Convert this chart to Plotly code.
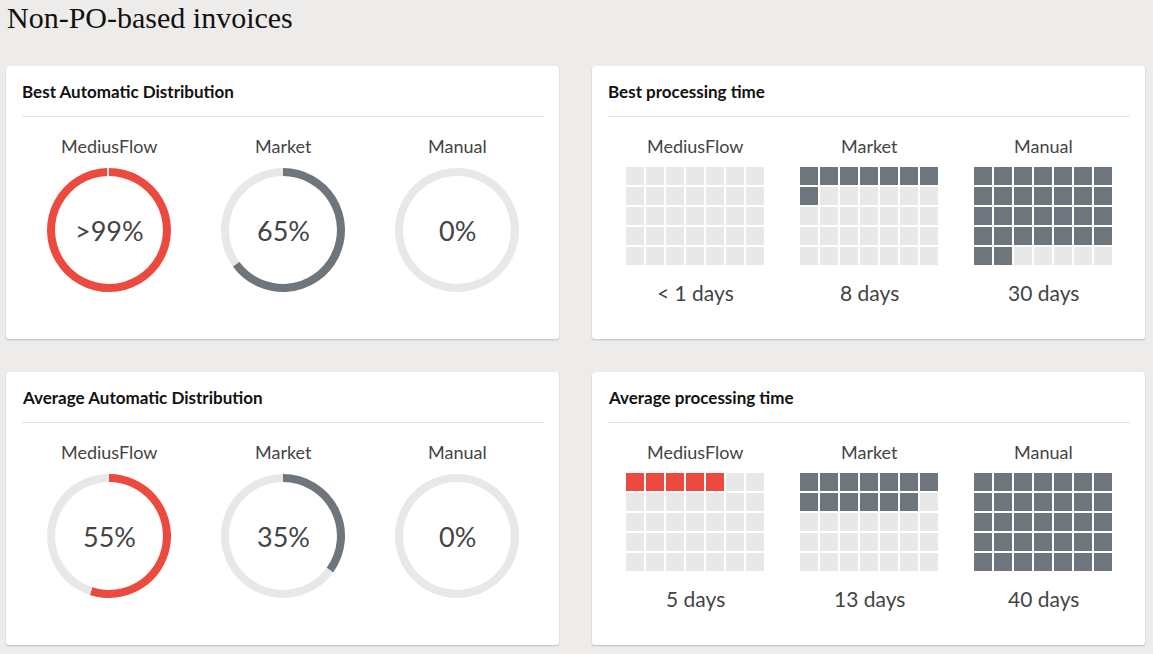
import plotly.graph_objects as go

# ---------------- data ----------------
page_title = "Non-PO-based invoices"
card_titles = ["Best Automatic Distribution", "Best processing time",
               "Average Automatic Distribution", "Average processing time"]
groups = ["MediusFlow", "Market", "Manual"]

best_auto_pct = [99.5, 65, 0]
best_auto_text = [">99%", "65%", "0%"]
avg_auto_pct = [55, 35, 0]
avg_auto_text = ["55%", "35%", "0%"]

best_days = [0.5, 8, 30]
best_days_text = ["< 1 days", "8 days", "30 days"]
avg_days = [5, 13, 40]
avg_days_text = ["5 days", "13 days", "40 days"]

# ---------------- style ----------------
W, H = 1153, 654
BG = "#EDECEA"
RED = "#EC4A3F"
GRAY = "#6E757C"
LIGHT = "#E8E8E9"
TXT = "#444444"
group_colors = [RED, GRAY, GRAY]
LABEL_FONT = "Lato"

cards = [(6, 66, 559, 339), (592, 66, 1145, 339),
         (6, 372, 559, 645), (592, 372, 1145, 645)]
donut_cx = [109, 283, 457]
waffle_x0 = [625, 799, 973]
COLS, ROWS, CELL = 7, 5, 20
R_OUT = 62


def rrect(x0, y0, x1, y1, r=3):
    return (f"M{x0+r},{y0} L{x1-r},{y0} Q{x1},{y0} {x1},{y0+r} "
            f"L{x1},{y1-r} Q{x1},{y1} {x1-r},{y1} L{x0+r},{y1} "
            f"Q{x0},{y1} {x0},{y1-r} L{x0},{y0+r} Q{x0},{y0} {x0+r},{y0} Z")


fig = go.Figure()
shapes = []
annotations = []

# page title
annotations.append(dict(x=5, y=17, xref="x", yref="y", text=page_title,
                        showarrow=False, xanchor="left", yanchor="middle",
                        font=dict(family="Liberation Serif", size=30, color="#111111")))

for ci, (x0, y0, x1, y1) in enumerate(cards):
    # shadow
    shapes.append(dict(type="path", path=rrect(x0 - 1, y0, x1 + 1, y1 + 2, 4),
                       fillcolor="rgba(0,0,0,0.05)", line=dict(width=0), layer="below",
                       xref="x", yref="y"))
    shapes.append(dict(type="path", path=rrect(x0, y0, x1, y1 + 1, 3),
                       fillcolor="rgba(0,0,0,0.10)", line=dict(width=0), layer="below",
                       xref="x", yref="y"))
    shapes.append(dict(type="path", path=rrect(x0, y0, x1, y1, 3),
                       fillcolor="white", line=dict(width=0), layer="below",
                       xref="x", yref="y"))
    # divider
    shapes.append(dict(type="line", x0=x0 + 16, x1=x1 - 15, y0=y0 + 50.5, y1=y0 + 50.5,
                       line=dict(color="#E4E4E4", width=1), layer="below",
                       xref="x", yref="y"))
    annotations.append(dict(x=x0 + 14, y=y0 + 25, xref="x", yref="y", text=f"<b>{card_titles[ci]}</b>",
                            showarrow=False, xanchor="left", yanchor="middle",
                            font=dict(family=LABEL_FONT, size=17, color="#111111")))

# donuts
for row, (vals, texts) in enumerate([(best_auto_pct, best_auto_text), (avg_auto_pct, avg_auto_text)]):
    oy = cards[0 if row == 0 else 2][1]
    cy = oy + 164
    for i, g in enumerate(groups):
        cx = donut_cx[i]
        v = vals[i]
        fig.add_trace(go.Pie(
            values=[v, 100 - v], sort=False, direction="clockwise", rotation=0,
            hole=0.87, marker=dict(colors=[group_colors[i], LIGHT], line=dict(width=0)),
            textinfo="none", hoverinfo="skip", showlegend=False,
            domain=dict(x=[(cx - R_OUT) / W, (cx + R_OUT) / W],
                        y=[1 - (cy + R_OUT) / H, 1 - (cy - R_OUT) / H])))
        annotations.append(dict(x=cx, y=cy, xref="x", yref="y", text=texts[i], showarrow=False,
                                font=dict(family=LABEL_FONT, size=27, color=TXT)))
        annotations.append(dict(x=cx, y=oy + 80, xref="x", yref="y", text=g, showarrow=False,
                                font=dict(family=LABEL_FONT, size=18, color=TXT)))

# waffles
ax = 2
layout_axes = {}
for row, (days, texts) in enumerate([(best_days, best_days_text), (avg_days, avg_days_text)]):
    oy = cards[1 if row == 0 else 3][1]
    wy0 = oy + 100
    for i, g in enumerate(groups):
        wx0 = waffle_x0[i]
        filled = int(min(days[i], COLS * ROWS))
        z = [[1 if r * COLS + c < filled else 0 for c in range(COLS)] for r in range(ROWS)]
        fig.add_trace(go.Heatmap(
            z=z, zmin=0, zmax=1, xgap=2, ygap=2, showscale=False, hoverinfo="skip",
            colorscale=[[0, LIGHT], [1, group_colors[i]]],
            xaxis=f"x{ax}", yaxis=f"y{ax}"))
        layout_axes[f"xaxis{ax}"] = dict(domain=[(wx0 - 1) / W, (wx0 + COLS * CELL + 1) / W],
                                         range=[-0.5 - 1 / CELL, COLS - 0.5 + 1 / CELL],
                                         visible=False, fixedrange=True, anchor=f"y{ax}")
        layout_axes[f"yaxis{ax}"] = dict(domain=[1 - (wy0 + ROWS * CELL + 1) / H, 1 - (wy0 - 1) / H],
                                         range=[ROWS - 0.5 + 1 / CELL, -0.5 - 1 / CELL],
                                         visible=False, fixedrange=True, anchor=f"x{ax}")
        ax += 1
        cx = wx0 + COLS * CELL / 2
        annotations.append(dict(x=cx, y=oy + 80, xref="x", yref="y", text=g, showarrow=False,
                                font=dict(family=LABEL_FONT, size=18, color=TXT)))
        annotations.append(dict(x=cx, y=oy + 226, xref="x", yref="y", text=texts[i], showarrow=False,
                                font=dict(family=LABEL_FONT, size=21, color=TXT)))

fig.update_layout(
    width=W, height=H, margin=dict(l=0, r=0, t=0, b=0),
    paper_bgcolor=BG, plot_bgcolor="rgba(0,0,0,0)",
    xaxis=dict(range=[0, W], domain=[0, 1], visible=False, fixedrange=True),
    yaxis=dict(range=[H, 0], domain=[0, 1], visible=False, fixedrange=True),
    shapes=shapes, annotations=annotations, showlegend=False,
    **layout_axes,
)

fig.write_html("out.html", config={"displayModeBar": False},
               post_script="document.body.style.margin='0';document.body.style.overflow='hidden';"
                           "document.body.style.background='" + BG + "';")
